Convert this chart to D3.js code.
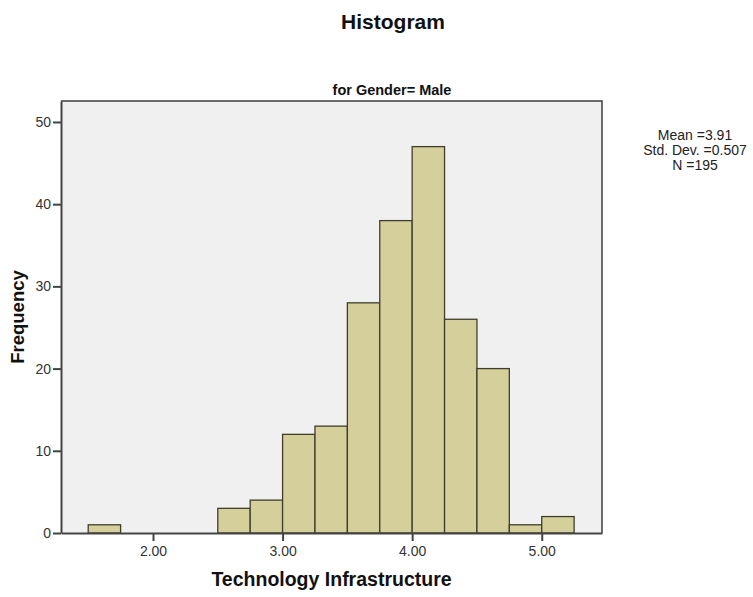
<!DOCTYPE html>
<html>
<head>
<meta charset="utf-8">
<script src="https://cdn.jsdelivr.net/npm/d3@7"></script>
<style>
  html, body { margin: 0; padding: 0; background: #fff; }
  svg { display: block; font-family: "Liberation Sans", Arial, sans-serif; }
</style>
</head>
<body>
<svg id="chart" width="753" height="597"></svg>
<script>
// Histogram bins (lower edge, width 0.25) and frequencies
const binStarts = [1.50, 2.50, 2.75, 3.00, 3.25, 3.50, 3.75, 4.00, 4.25, 4.50, 4.75, 5.00];
const binWidth = 0.25;
const frequencies = [1, 3, 4, 12, 13, 28, 38, 47, 26, 20, 1, 2];
const xTicks = [2, 3, 4, 5];
const yTicks = [0, 10, 20, 30, 40, 50];
const statsLines = ["Mean =3.91", "Std. Dev. =0.507", "N =195"];

const svg = d3.select("#chart");
const plot = { left: 61, right: 602, top: 101, bottom: 533 };

const x = d3.scaleLinear().domain([1.29, 5.465]).range([plot.left, plot.right]);
const y = d3.scaleLinear().domain([0, 52.55]).range([plot.bottom, plot.top]);

// plot background
svg.append("rect")
  .attr("x", plot.left).attr("y", plot.top)
  .attr("width", plot.right - plot.left).attr("height", plot.bottom - plot.top)
  .attr("fill", "#f0f0f0");

// bars
const bins = binStarts.map((s, i) => ({ x0: s, x1: s + binWidth, n: frequencies[i] }));
svg.append("g").selectAll("rect").data(bins).join("rect")
  .attr("x", d => x(d.x0))
  .attr("y", d => y(d.n))
  .attr("width", d => x(d.x1) - x(d.x0))
  .attr("height", d => y(0) - y(d.n))
  .attr("fill", "#d5cf9b")
  .attr("stroke", "#3f3e2c")
  .attr("stroke-width", 1.3);

// frame top and right
svg.append("path")
  .attr("d", `M${plot.left},${plot.top}H${plot.right}V${plot.bottom}`)
  .attr("fill", "none").attr("stroke", "#3c3c3c").attr("stroke-width", 1.5);

// axes
const xAxis = d3.axisBottom(x).tickValues(xTicks).tickFormat(d3.format(".2f"))
  .tickSizeInner(8).tickSizeOuter(0).tickPadding(5);
const yAxis = d3.axisLeft(y).tickValues(yTicks).tickFormat(d3.format("d"))
  .tickSizeInner(8).tickSizeOuter(0).tickPadding(2);

const gx = svg.append("g").attr("transform", `translate(0,${plot.bottom})`).call(xAxis);
const gy = svg.append("g").attr("transform", `translate(${plot.left},0)`).call(yAxis);

[gx, gy].forEach(g => {
  g.select(".domain").attr("stroke", "#444").attr("stroke-width", 2);
  g.selectAll(".tick line").attr("stroke", "#444").attr("stroke-width", 2);
  g.selectAll(".tick text").attr("fill", "#333").style("font-size", "14px")
    .style("font-family", "'Liberation Sans', Arial, sans-serif");
});

// titles
svg.append("text").attr("x", 393).attr("y", 29).attr("text-anchor", "middle")
  .style("font-size", "21px").style("font-weight", "bold").attr("fill", "#111")
  .text("Histogram");

svg.append("text").attr("x", 392).attr("y", 95).attr("text-anchor", "middle")
  .style("font-size", "14.5px").style("font-weight", "bold").attr("fill", "#111")
  .text("for Gender= Male");

svg.append("text").attr("x", 331.5).attr("y", 586).attr("text-anchor", "middle")
  .style("font-size", "19.5px").style("font-weight", "bold").attr("fill", "#111")
  .text("Technology Infrastructure");

svg.append("text")
  .attr("transform", `translate(24,317) rotate(-90)`)
  .attr("text-anchor", "middle")
  .style("font-size", "18.5px").style("font-weight", "bold").attr("fill", "#111")
  .text("Frequency");

// summary statistics
svg.append("g").selectAll("text").data(statsLines).join("text")
  .attr("x", 695).attr("y", (d, i) => 140 + i * 15)
  .attr("text-anchor", "middle")
  .style("font-size", "14px").attr("fill", "#222")
  .text(d => d);
</script>
</body>
</html>
